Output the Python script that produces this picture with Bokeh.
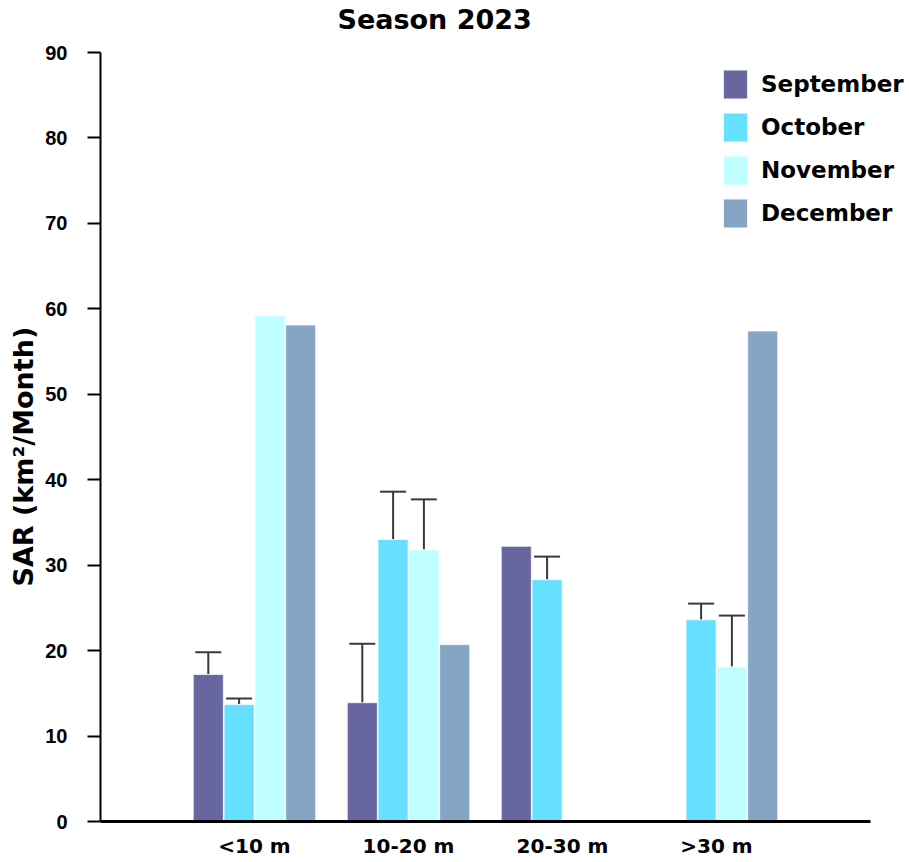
from bokeh.plotting import figure
from bokeh.models import (ColumnDataSource, Range1d, Legend, LegendItem, Title,
                          Whisker, TeeHead, FixedTicker)
from bokeh.transform import dodge
from bokeh.embed import file_html
from bokeh.resources import INLINE

# Depth classes and monthly SAR values (km²/month); None = no data
depth_classes = ["<10 m", "10-20 m", "20-30 m", ">30 m"]
months = ["September", "October", "November", "December"]

sep_values = [17.2, 13.9, 32.2, None]
oct_values = [13.7, 33.0, 28.3, 23.6]
nov_values = [59.2, 31.8, None, 18.1]
dec_values = [58.1, 20.7, None, 57.4]

# Upper error (standard deviation) for each bar; None = no error bar
sep_errors = [2.6, 6.9, None, None]
oct_errors = [0.7, 5.6, 2.7, 1.9]
nov_errors = [None, 5.9, None, 6.0]
dec_errors = [None, None, None, None]

y_ticks = [0, 10, 20, 30, 40, 50, 60, 70, 80, 90]

colors = ["#6766A0", "#66E0FF", "#C0FFFF", "#86A4C4"]
offsets = [-0.3, -0.1, 0.1, 0.3]
WIDE = "DejaVu Sans"
NARROW = "Liberation Sans"

# Layout: each depth class occupies one x unit; the x axis line spans 0..5.
# The plot frame reaches a little above the 90 tick so the title sits close
# to the top edge; the y axis line itself stops at 90.
W, H = 909, 862
LEFT, TOP, BOTTOM = 100, 36, 41
UNIT_PX = 154
AXIS_TOP_PX = 52          # pixel row of the 90 tick
x_end = (W - LEFT) / UNIT_PX
y_max = y_ticks[-1]
y_end = y_max * (H - BOTTOM - TOP) / (H - BOTTOM - AXIS_TOP_PX)
positions = list(range(1, len(depth_classes) + 1))

p = figure(width=W, height=H, x_range=Range1d(0, x_end), y_range=Range1d(0, y_end),
           output_backend="svg", toolbar_location=None,
           min_border_left=LEFT, min_border_right=0, min_border_top=TOP,
           min_border_bottom=BOTTOM)

series = [
    (sep_values, sep_errors),
    (oct_values, oct_errors),
    (nov_values, nov_errors),
    (dec_values, dec_errors),
]

legend_items = []
for name, (vals, errs), color, off in zip(months, series, colors, offsets):
    xs = [c for c, v in zip(positions, vals) if v is not None]
    tops = [v for v in vals if v is not None]
    src = ColumnDataSource(dict(x=xs, top=tops))
    r = p.vbar(x=dodge("x", off), top="top", width=0.195, source=src,
               fill_color=color, line_color="white", line_width=1, line_alpha=0.7)
    legend_items.append(LegendItem(label=name, renderers=[r]))

    ex = [c for c, v, e in zip(positions, vals, errs) if v is not None and e is not None]
    if ex:
        lo = [v for v, e in zip(vals, errs) if v is not None and e is not None]
        hi = [v + e for v, e in zip(vals, errs) if v is not None and e is not None]
        esrc = ColumnDataSource(dict(x=ex, lower=lo, upper=hi))
        w = Whisker(base=dodge("x", off), lower="lower", upper="upper",
                    source=esrc, dimension="height", line_color="#3a3a3a", line_width=2,
                    upper_head=TeeHead(size=26, line_color="#3a3a3a", line_width=2),
                    lower_head=None)
        p.add_layout(w)

legend = Legend(items=legend_items, location=(620, 590), padding=0, margin=0,
                spacing=7, glyph_width=30, glyph_height=36, label_standoff=11,
                label_text_font=WIDE, label_text_font_size="23px",
                label_text_font_style="bold", label_text_color="black",
                border_line_alpha=0, background_fill_alpha=0)
p.add_layout(legend)

# Title
p.title.text = "Season 2023"
p.title.align = "left"
p.title.offset = 237
p.title.vertical_align = "top"
p.title.standoff = 0
p.title.text_font = WIDE
p.title.text_font_size = "27px"
p.title.text_font_style = "bold"
p.title.text_color = "black"

# Y axis title, placed along the left side
p.add_layout(Title(text="SAR (km²/Month)", align="left", offset=235,
                   vertical_align="bottom", standoff=8, text_font=WIDE,
                   text_font_size="27px", text_font_style="bold",
                   text_color="black"), "left")

# Axes
p.xgrid.grid_line_color = None
p.ygrid.grid_line_color = None
p.outline_line_color = None

p.yaxis.ticker = FixedTicker(ticks=y_ticks)
p.yaxis.bounds = (0, y_max)
p.yaxis.major_label_text_font = NARROW
p.yaxis.major_label_text_font_size = "20px"
p.yaxis.major_label_text_font_style = "bold"
p.yaxis.major_label_text_color = "black"
p.yaxis.major_label_standoff = 20
p.yaxis.major_tick_out = 13
p.yaxis.major_tick_in = 0
p.yaxis.minor_tick_out = 0
p.yaxis.minor_tick_in = 0
p.yaxis.axis_line_width = 2
p.yaxis.major_tick_line_width = 2
p.yaxis.axis_line_color = "black"
p.yaxis.major_tick_line_color = "black"

p.xaxis.ticker = FixedTicker(ticks=positions)
p.xaxis.major_label_overrides = {pos: lab for pos, lab in zip(positions, depth_classes)}
p.xaxis.bounds = (0, len(depth_classes) + 1)
p.xaxis.major_label_text_font = WIDE
p.xaxis.major_label_text_font_size = "20px"
p.xaxis.major_label_text_font_style = "bold"
p.xaxis.major_label_text_color = "black"
p.xaxis.major_label_standoff = 12
p.xaxis.major_tick_out = 0
p.xaxis.major_tick_in = 0
p.xaxis.minor_tick_out = 0
p.xaxis.minor_tick_in = 0
p.xaxis.axis_line_width = 3
p.xaxis.axis_line_color = "black"

open("out.html", "w").write(file_html(p, INLINE))
